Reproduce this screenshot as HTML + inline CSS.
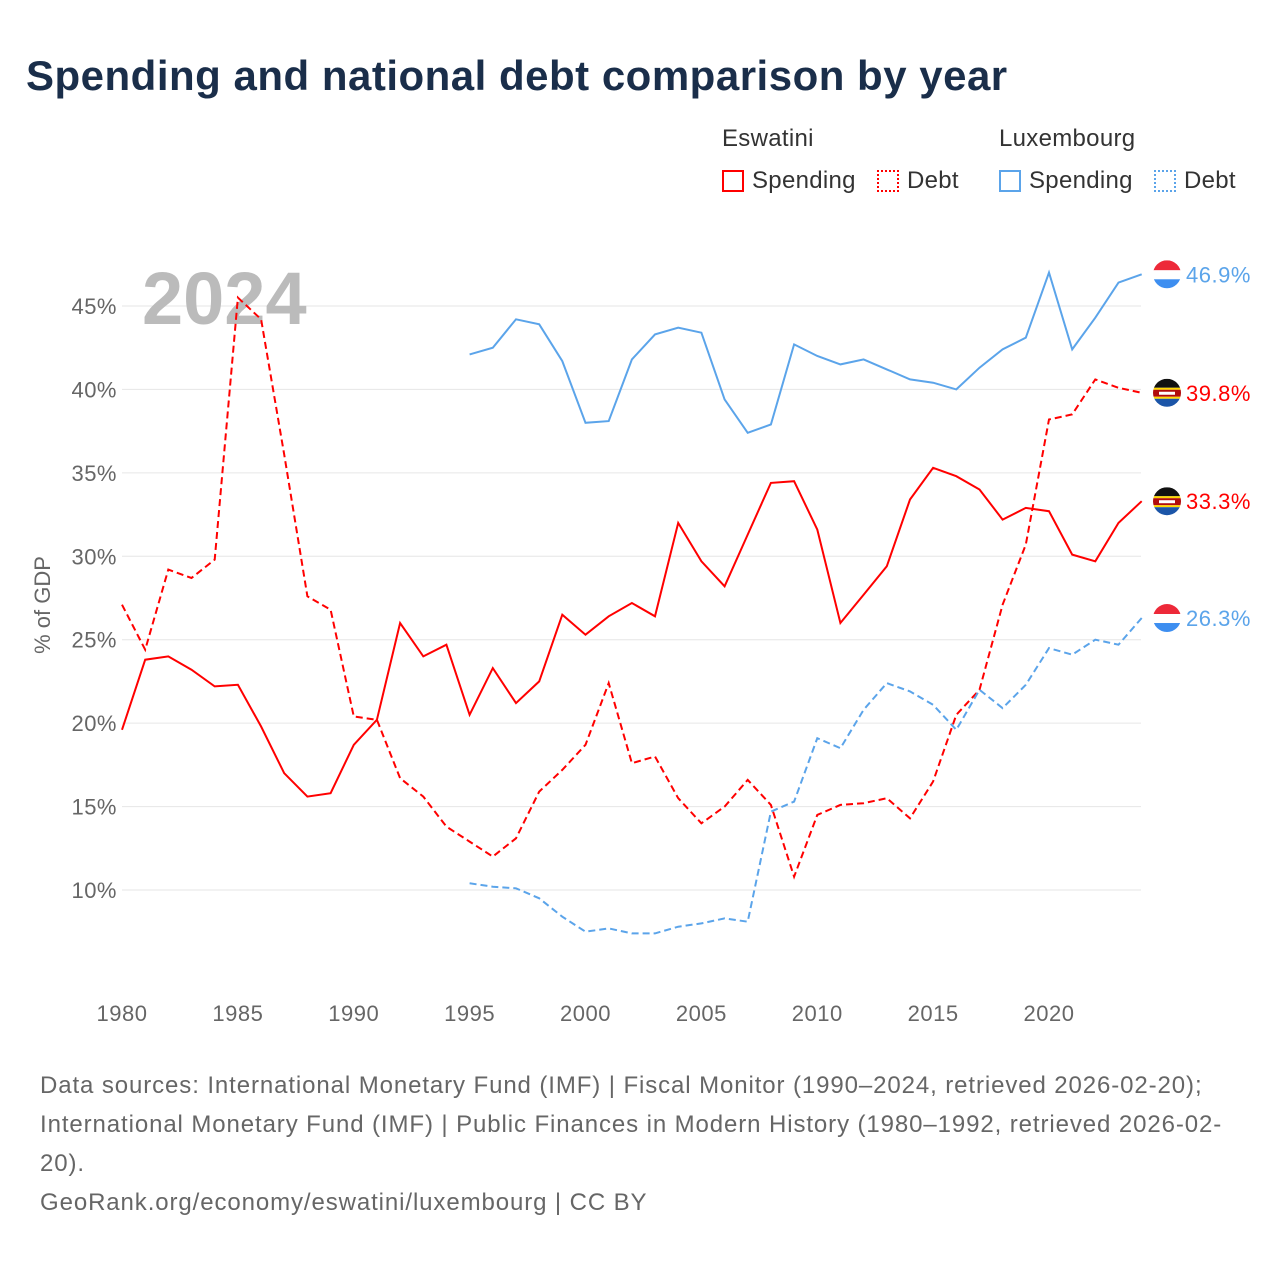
<!DOCTYPE html>
<html><head><meta charset="utf-8"><style>
body{margin:0;background:#fff;font-family:"Liberation Sans",sans-serif;}
#wrap{position:relative;width:1280px;height:1280px;overflow:hidden;}
h1{position:absolute;left:26px;top:52px;margin:0;font-size:42px;font-weight:bold;color:#1a2e4a;letter-spacing:0.5px;}
.src{position:absolute;left:40px;top:1066px;width:1230px;font-size:24px;line-height:39px;color:#666;letter-spacing:0.9px;white-space:nowrap;}
.lg{position:absolute;font-size:24px;color:#333;letter-spacing:0.3px;}
.box{position:absolute;width:22px;height:22px;box-sizing:border-box;}
</style></head><body><div id="wrap">
<h1>Spending and national debt comparison by year</h1>
<div class="lg" style="left:722px;top:125px">Eswatini</div>
<div class="lg" style="left:999px;top:125px">Luxembourg</div>
<div><div class="box" style="left:722px;top:170px;border:2px solid #f00"></div><div class="lg" style="left:752px;top:167px">Spending</div></div>
<div><div class="box" style="left:877px;top:170px;border:2px dotted #f00"></div><div class="lg" style="left:907px;top:167px">Debt</div></div>
<div><div class="box" style="left:999px;top:170px;border:2px solid #5ba4ea"></div><div class="lg" style="left:1029px;top:167px">Spending</div></div>
<div><div class="box" style="left:1154px;top:170px;border:2px dotted #5ba4ea"></div><div class="lg" style="left:1184px;top:167px">Debt</div></div>
<svg id="c" width="1280" height="1280" style="position:absolute;left:0;top:0"></svg>
<div class="src">Data sources: International Monetary Fund (IMF) | Fiscal Monitor (1990–2024, retrieved 2026-02-20);<br>International Monetary Fund (IMF) | Public Finances in Modern History (1980–1992, retrieved 2026-02-<br>20).<br>GeoRank.org/economy/eswatini/luxembourg | CC BY</div>
</div>
<script>
const yTicks=[10,15,20,25,30,35,40,45];
const xTicks=[1980,1985,1990,1995,2000,2005,2010,2015,2020];
const yearsSZ=[];for(let y=1980;y<=2024;y++)yearsSZ.push(y);
const yearsLU=[];for(let y=1995;y<=2024;y++)yearsLU.push(y);
const szSpending=[19.6,23.8,24.0,23.2,22.2,22.3,19.8,17.0,15.6,15.8,18.7,20.2,26.0,24.0,24.7,20.5,23.3,21.2,22.5,26.5,25.3,26.4,27.2,26.4,32.0,29.7,28.2,31.3,34.4,34.5,31.6,26.0,27.7,29.4,33.4,35.3,34.8,34.0,32.2,32.9,32.7,30.1,29.7,32.0,33.3];
const szDebt=[27.1,24.4,29.2,28.7,29.8,45.5,44.2,36.1,27.6,26.8,20.4,20.2,16.7,15.6,13.8,12.9,12.0,13.1,15.9,17.2,18.7,22.4,17.6,18.0,15.5,14.0,15.0,16.6,15.1,10.8,14.5,15.1,15.2,15.5,14.3,16.5,20.5,22.0,27.1,30.7,38.2,38.5,40.6,40.1,39.8];
const luSpending=[42.1,42.5,44.2,43.9,41.7,38.0,38.1,41.8,43.3,43.7,43.4,39.4,37.4,37.9,42.7,42.0,41.5,41.8,41.2,40.6,40.4,40.0,41.3,42.4,43.1,47.0,42.4,44.3,46.4,46.9];
const luDebt=[10.4,10.2,10.1,9.5,8.4,7.5,7.7,7.4,7.4,7.8,8.0,8.3,8.1,14.7,15.3,19.1,18.5,20.8,22.4,21.9,21.1,19.6,22.0,20.9,22.3,24.5,24.1,25.0,24.7,26.3];
const X=y=>122+(y-1980)*23.175, Y=v=>890-(v-10)*16.686;
const svg=document.getElementById('c');const NS='http://www.w3.org/2000/svg';
function el(t,a,p){const e=document.createElementNS(NS,t);for(const k in a)e.setAttribute(k,a[k]);(p||svg).appendChild(e);return e;}
yTicks.forEach(v=>{
 const l=el('line',{x1:122,x2:1141,y1:Y(v),y2:Y(v),stroke:'#e6e6e6','stroke-width':1});
 
 
 const t=el('text',{x:117,y:Y(v)+8,'text-anchor':'end','font-size':22,fill:'#666','font-family':'Liberation Sans','letter-spacing':0.5});t.textContent=v+'%';
 
 
});
xTicks.forEach(v=>{
 const t=el('text',{x:X(v),y:1021,'text-anchor':'middle','font-size':22,fill:'#666','font-family':'Liberation Sans','letter-spacing':0.5});t.textContent=v;
 
 
});
const yt=el('text',{transform:'translate(50,605) rotate(-90)','text-anchor':'middle','font-size':22,fill:'#666','font-family':'Liberation Sans'});yt.textContent='% of GDP';


const yr=el('text',{x:142,y:324,'font-size':74,'font-weight':'bold',fill:'#bbb','font-family':'Liberation Sans'});yr.textContent='2024';


function line(years,vals,color,dash,name){
 const d=vals.map((v,i)=>(i?'L':'M')+X(years[i]).toFixed(1)+','+Y(v).toFixed(1)).join('');
 const p=el('path',{d:d,fill:'none',stroke:color,'stroke-width':2,'stroke-dasharray':dash?'7,4':'none'});
 
 
}
line(yearsSZ,szSpending,'#f00',false,'line-eswatini-spending');
line(yearsSZ,szDebt,'#f00',true,'line-eswatini-debt');
line(yearsLU,luSpending,'#5ba4ea',false,'line-luxembourg-spending');
line(yearsLU,luDebt,'#5ba4ea',true,'line-luxembourg-debt');
let cid=0;
function flag(v,kind,color,name){
 const cx=1167,cy=Y(v);const id='cl'+(cid++);
 const g=el('g',{});
 
 
 const cp=el('clipPath',{id:id},g);el('circle',{cx:cx,cy:cy,r:14},cp);
 const gg=el('g',{'clip-path':'url(#'+id+')'},g);
 if(kind==='lu'){el('rect',{x:cx-14,y:cy-14,width:28,height:10,fill:'#ed2939'},gg);el('rect',{x:cx-14,y:cy-4,width:28,height:9,fill:'#fff'},gg);el('rect',{x:cx-14,y:cy+5,width:28,height:10,fill:'#3d8ef0'},gg);}
 else{el('rect',{x:cx-14,y:cy-14,width:28,height:9,fill:'#111'},gg);el('rect',{x:cx-14,y:cy-5,width:28,height:2,fill:'#ffd900'},gg);el('rect',{x:cx-14,y:cy-3,width:28,height:7,fill:'#b10c0c'},gg);el('rect',{x:cx-8,y:cy-1,width:16,height:3,fill:'#fff'},gg);el('rect',{x:cx-14,y:cy+4,width:28,height:2,fill:'#ffd900'},gg);el('rect',{x:cx-14,y:cy+6,width:28,height:9,fill:'#1b55a8'},gg);}
 const t=el('text',{x:1186,y:cy+8,'font-size':22,fill:color,'font-family':'Liberation Sans','letter-spacing':0.5});t.textContent=v.toFixed(1)+'%';
 
 
}
flag(luSpending[luSpending.length-1],'lu','#5ba4ea','luxembourg-spending');
flag(szDebt[szDebt.length-1],'sz','#f00','eswatini-debt');
flag(szSpending[szSpending.length-1],'sz','#f00','eswatini-spending');
flag(luDebt[luDebt.length-1],'lu','#5ba4ea','luxembourg-debt');
</script></body></html>
